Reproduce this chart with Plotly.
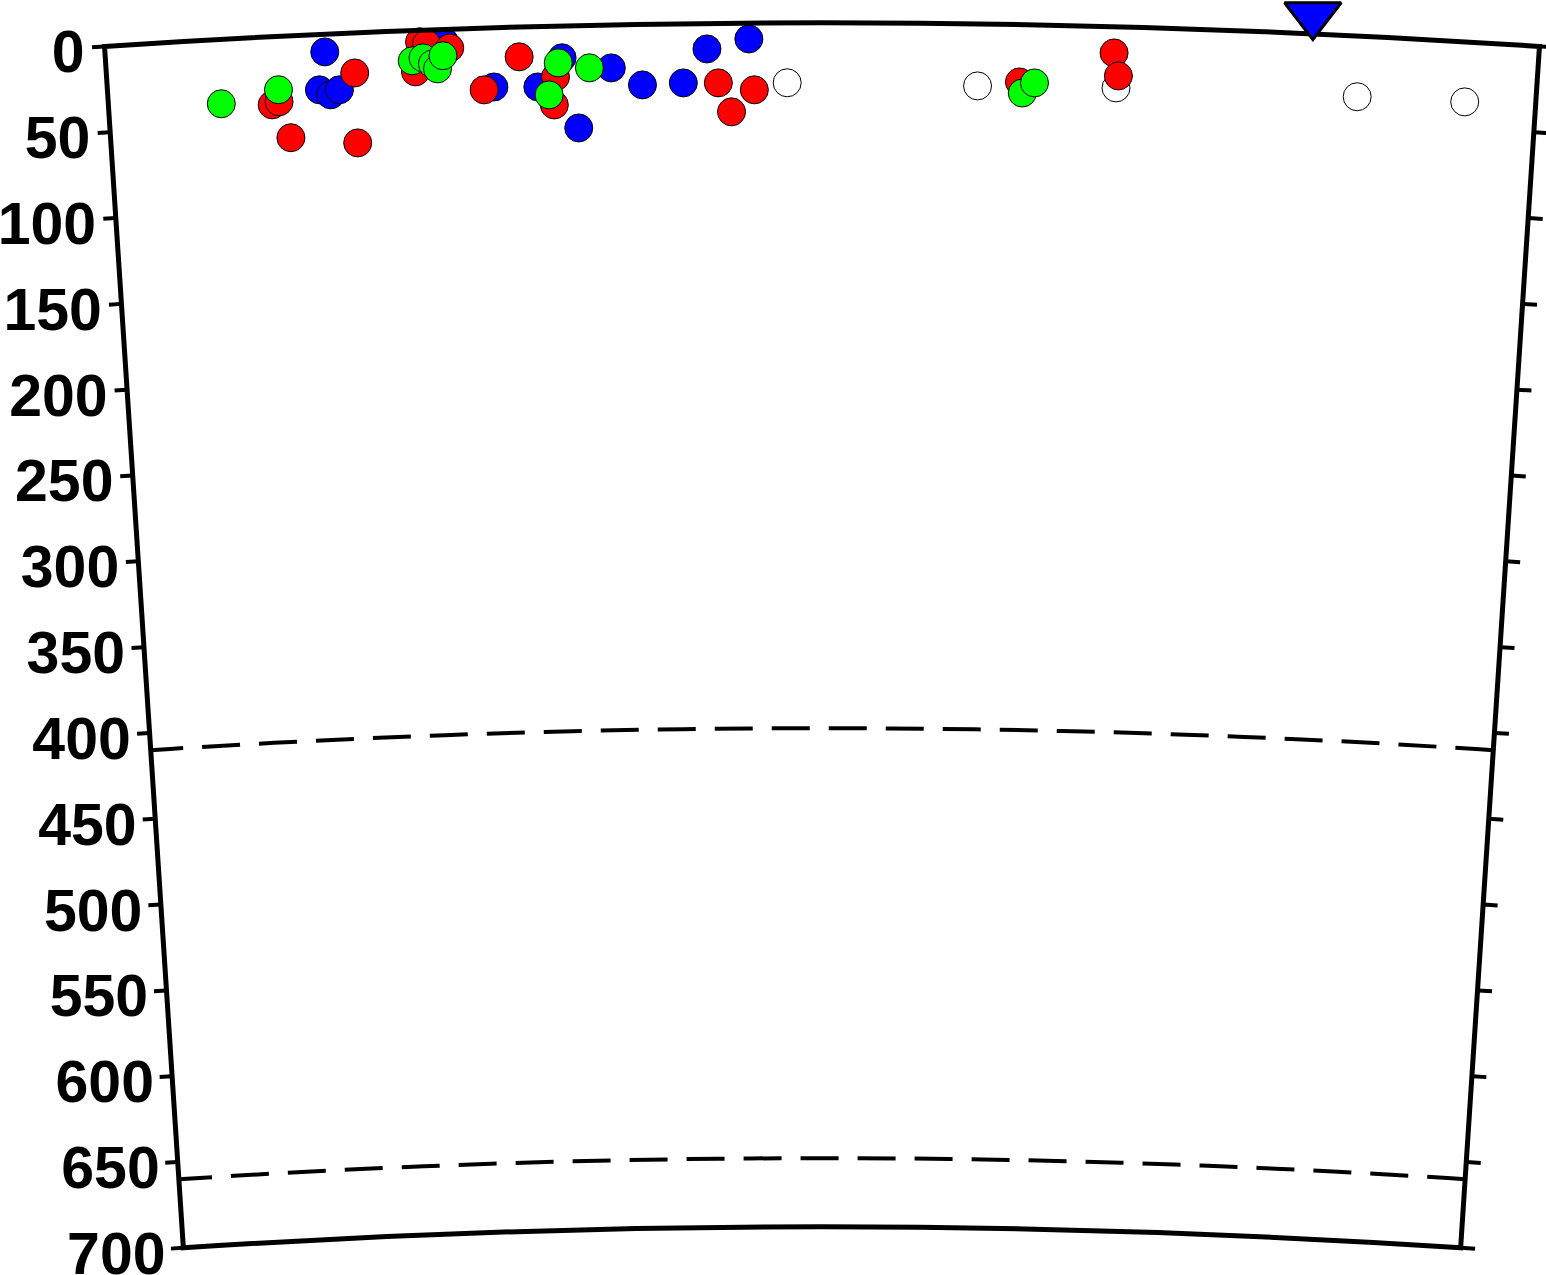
import math
import plotly.graph_objects as go

EARTH_R = 6371.0
MAX_DEPTH = 700
HALF_SPAN = 3.754          # half angular width of the section (deg)

# ---- data: distance along section (deg) and hypocentre depth (km) ----
white_dist = [3.571, 4.572, 5.300, 6.569, 7.135]
white_depth = [34.8, 36.0, 35.5, 35.3, 34.9]

blue_dist = [1.149, 1.112, 1.170, 1.217, 1.778, 2.029, 2.260, 2.391, 2.648,
             2.470, 2.810, 3.025, 3.151, 3.371]
blue_depth = [10.3, 32.2, 35.4, 32.7, 7.3, 34.4, 35.1, 18.5, 25.0,
              59.5, 35.2, 34.4, 14.8, 9.2]

red_dist = [1.301, 0.860, 0.897, 0.950, 1.301, 1.647, 1.683, 1.804, 1.620,
            2.166, 1.977, 2.354, 2.344, 3.209, 3.277, 3.398, 4.792, 5.285, 5.311]
red_depth = [23.3, 39.6, 38.0, 59.2, 64.0, 6.7, 8.1, 10.9, 24.1,
             17.3, 35.9, 29.5, 45.8, 34.6, 51.5, 38.8, 33.3, 15.2, 28.5]

green_dist = [0.593, 0.897, 1.605, 1.662, 1.710, 1.736, 1.767, 2.370, 2.318,
              2.533, 4.808, 4.871]
green_depth = [37.4, 31.0, 17.6, 16.1, 19.8, 22.8, 15.3, 21.4, 39.9,
               24.7, 39.7, 33.7]

station_dist = [6.317]
station_depth = [-11.0]

depth_ticks = [0, 50, 100, 150, 200, 250, 300, 350, 400, 450, 500, 550, 600, 650, 700]
tick_labels = ["0", "50", "100", "150", "200", "250", "300", "350", "400",
               "450", "500", "550", "600", "650", "700"]
discontinuities = [410, 660]

# ---- page geometry (px) ----
W, TOP_PAD = 1546, 23
CENTER_X = 822
PX_PER_KM = 1.72
LBL_DROP = 10                         # depth labels sit slightly below their ticks
R_PX = EARTH_R * PX_PER_KM            # radius of the surface in px
H = int(round(R_PX + TOP_PAD + LBL_DROP))  # very tall page: top of a huge circle
R_EXT = EARTH_R * (R_PX + TOP_PAD) / R_PX  # radius reached at the very top of the page
LABEL_GAP_DEG = 0.105                 # labels sit just outside the left edge
EXTRA_DEG = 0.3                       # label subplot sector reaches a bit further left

main_dom_x = [(CENTER_X - 720) / W, (CENTER_X + 720) / W]
main_dom_y = [LBL_DROP / H, (LBL_DROP + R_PX) / H]

# label subplot: asymmetric sector, same circle radius and centre x
a_left = math.radians(90 + HALF_SPAN + EXTRA_DEG)
a_right = math.radians(90 - HALF_SPAN)
bx0, bx1 = math.cos(a_left), math.cos(a_right)
lbl_center = CENTER_X + R_PX * (bx0 + bx1) / 2
lbl_half = (R_PX * (bx1 - bx0) + 6) / 2
lbl_dom_x = [(lbl_center - lbl_half) / W, (lbl_center + lbl_half) / W]


def rad(depths):
    return [EARTH_R - d for d in depths]


fig = go.Figure()


def pts(dist, depth, fill, name):
    fig.add_trace(go.Scatterpolar(
        r=rad(depth), theta=dist, mode="markers", name=name, subplot="polar",
        marker=dict(size=28, color=fill, line=dict(color="black", width=1)),
        showlegend=False, hoverinfo="skip"))


pts(white_dist, white_depth, "white", "other")
pts(blue_dist, blue_depth, "#0000ff", "blue")
pts(red_dist, red_depth, "#ff0000", "red")
pts(green_dist, green_depth, "#00ff00", "green")

fig.add_trace(go.Scatterpolar(r=[], theta=[], subplot="polar2", showlegend=False))

# depth labels along the left edge
fig.add_trace(go.Scatterpolar(
    r=rad(depth_ticks), theta=[-LABEL_GAP_DEG] * len(depth_ticks),
    mode="text", text=tick_labels, textposition="middle left",
    textfont=dict(family="Liberation Sans", size=59, color="black", weight="bold"),
    subplot="polar3", cliponaxis=False, showlegend=False, hoverinfo="skip"))

fig.add_trace(go.Scatterpolar(
    r=rad(station_depth), theta=station_dist, mode="markers", subplot="polar4",
    cliponaxis=False, showlegend=False, hoverinfo="skip",
    marker=dict(symbol="triangle-down", size=49, color="#0000ff",
                line=dict(color="black", width=3))))

sector = [90 - HALF_SPAN, 90 + HALF_SPAN]
hole = (EARTH_R - MAX_DEPTH) / EARTH_R
tick_r = rad(depth_ticks)
dom_main = dict(x=main_dom_x, y=main_dom_y)

ang_common = dict(rotation=90 + HALF_SPAN, direction="clockwise", thetaunit="degrees",
                  showgrid=False, ticks="", showticklabels=False)


def base_radial(**kw):
    d = dict(range=[EARTH_R - MAX_DEPTH, EARTH_R], showgrid=False, showline=False,
             ticks="", showticklabels=False)
    d.update(kw)
    return d


fig.update_layout(
    width=W, height=H,
    margin=dict(l=0, r=0, t=0, b=0),
    paper_bgcolor="white",
    showlegend=False,
    # data + left-edge ticks
    polar=dict(
        domain=dom_main, sector=sector, hole=hole, bgcolor="white",
        angularaxis=dict(showline=False, **ang_common),
        radialaxis=base_radial(
            angle=90 + HALF_SPAN, side="counterclockwise",
            tickmode="array", tickvals=tick_r,
            ticks="outside", ticklen=12, tickwidth=4, tickcolor="black"),
    ),
    # frame + right-edge ticks
    polar2=dict(
        domain=dom_main, sector=sector, hole=hole, bgcolor="rgba(0,0,0,0)",
        angularaxis=dict(showline=True, linewidth=5, linecolor="black", **ang_common),
        radialaxis=base_radial(
            angle=90 - HALF_SPAN, side="clockwise",
            tickmode="array", tickvals=tick_r, ticks="outside", ticklen=14,
            tickwidth=4, tickcolor="black"),
    ),
    # depth labels
    polar3=dict(
        domain=dict(x=lbl_dom_x, y=[0, R_PX / H]),
        sector=[90 - HALF_SPAN, 90 + HALF_SPAN + EXTRA_DEG], hole=hole,
        bgcolor="rgba(0,0,0,0)",
        angularaxis=dict(showline=False, **ang_common),
        radialaxis=base_radial(angle=90 + HALF_SPAN),
    ),
    # station above the surface + dashed 410 / 660 km discontinuities
    polar4=dict(
        domain=dict(x=main_dom_x, y=[LBL_DROP / H, 1]), sector=sector,
        hole=(EARTH_R - MAX_DEPTH) / R_EXT, bgcolor="rgba(0,0,0,0)",
        angularaxis=dict(showline=False, **ang_common),
        radialaxis=base_radial(
            range=[EARTH_R - MAX_DEPTH, R_EXT], angle=90 + HALF_SPAN,
            tickmode="array", tickvals=rad(discontinuities), showgrid=True,
            gridcolor="black", gridwidth=4, griddash="38px,19px"),
    ),
)

fig.write_html("out.html", config={"displayModeBar": False},
               post_script="document.body.style.margin='0';document.body.style.overflow='hidden';")
